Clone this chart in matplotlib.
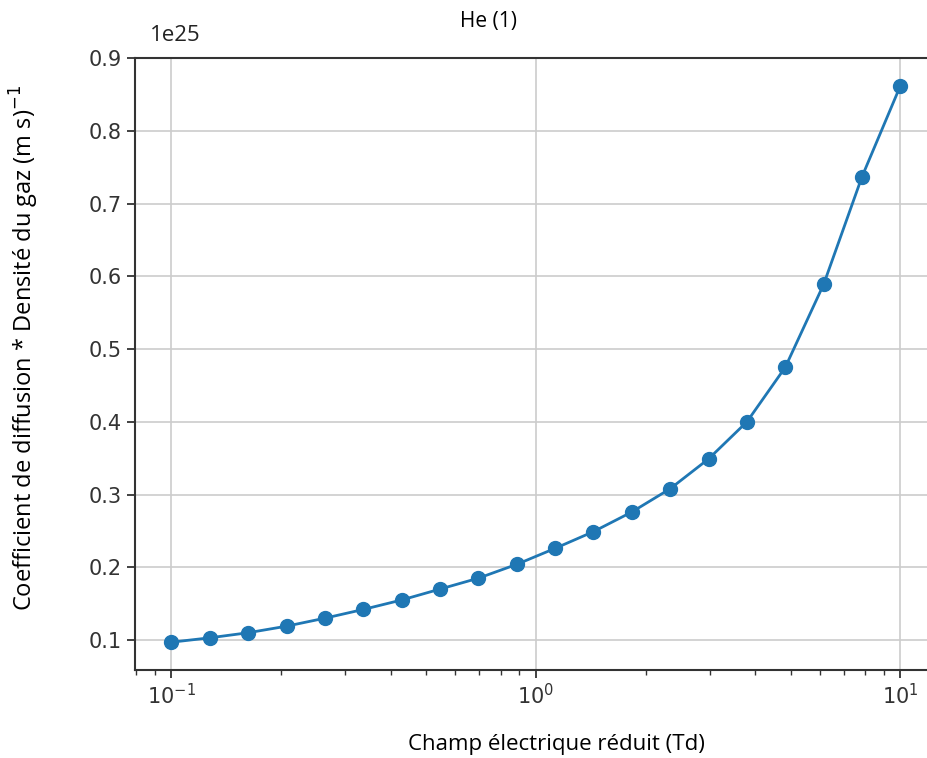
import matplotlib
matplotlib.use("Agg")
import matplotlib.pyplot as plt

# reduced electric field (Td), 20 log-spaced points
champ_td = [0.1, 0.1274, 0.1624, 0.2069, 0.2637, 0.336, 0.4281, 0.5456, 0.6952, 0.8859,
            1.1288, 1.4384, 1.833, 2.3357, 2.9764, 3.7927, 4.8329, 6.1585, 7.8476, 10.0]
# diffusion coefficient * gas density, in units of 1e25 (m s)^-1
diff_x_n = [0.097, 0.103, 0.110, 0.119, 0.130, 0.142, 0.155, 0.170, 0.185, 0.204,
            0.226, 0.249, 0.276, 0.308, 0.349, 0.400, 0.475, 0.589, 0.737, 0.862]
scale = 1e25

titre = "He (1)"
xlabel = "Champ électrique réduit (Td)"
ylabel = "Coefficient de diffusion * Densité du gaz (m s)$^{-1}$"

side_font = ["Open Sans", "DejaVu Sans"]

fig = plt.figure(figsize=(9.28, 7.58), dpi=100)
ax = fig.add_axes([0.1455, 0.1161, 0.864, 0.8074])

ax.plot(champ_td, [v * scale for v in diff_x_n], "-o", color="#1f77b4",
        linewidth=2, markersize=10)
ax.set_xscale("log")
ax.ticklabel_format(axis="y", style="sci", scilimits=(25, 25))
ax.grid(True, which="major", color="#cccccc", linewidth=1.2)

for s in ax.spines.values():
    s.set_color("#333333")
    s.set_linewidth(1.5)
ax.spines["right"].set_visible(False)

ax.tick_params(axis="both", which="major", labelsize=15, length=6, width=1.3, colors="#333333")
ax.tick_params(axis="x", which="minor", length=3.5, width=1.0, colors="#333333")

# offset text "1e25" sits a bit higher and to the right in the reference
ax.yaxis.OFFSETTEXTPAD = 12
off = ax.yaxis.get_offset_text()
off.set_fontfamily(side_font)
off.set_fontsize(16)
off.set_color("#222222")
off.set_x((150 - 135) / 802)

ax.set_title(titre, x=(489 - 135) / 802, pad=22, fontsize=15, family=side_font)
ax.set_xlabel(xlabel, fontsize=16, family=side_font)
ax.xaxis.set_label_coords((557 - 135) / 802, -0.104)
ax.set_ylabel(ylabel, fontsize=17, family=side_font)
ax.yaxis.set_label_coords(-0.117, 0.526)

fig.savefig("out.png", dpi=100)
